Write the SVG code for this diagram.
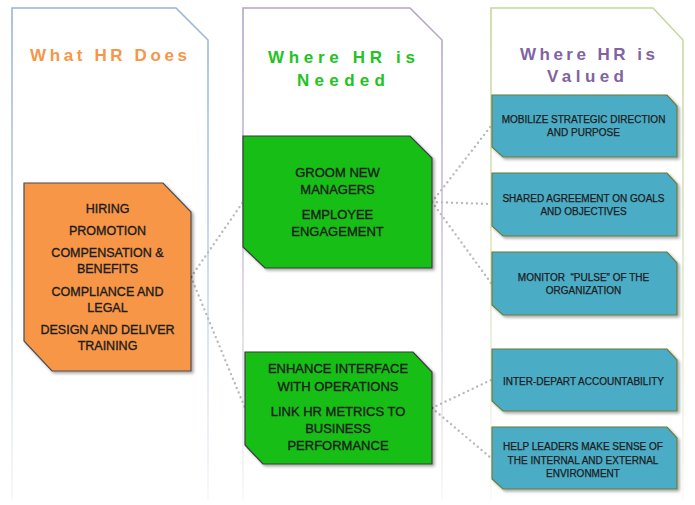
<svg xmlns="http://www.w3.org/2000/svg" width="695" height="505" viewBox="0 0 695 505">
<defs>
  <linearGradient id="g1" gradientUnits="userSpaceOnUse" x1="0" y1="0" x2="0" y2="505">
    <stop offset="0" stop-color="#95b3d7" stop-opacity="1"/>
    <stop offset="0.55" stop-color="#95b3d7" stop-opacity="0.55"/>
    <stop offset="1" stop-color="#95b3d7" stop-opacity="0.08"/>
  </linearGradient>
  <linearGradient id="g2" gradientUnits="userSpaceOnUse" x1="0" y1="0" x2="0" y2="505">
    <stop offset="0" stop-color="#b3a2c7" stop-opacity="1"/>
    <stop offset="0.55" stop-color="#b3a2c7" stop-opacity="0.55"/>
    <stop offset="1" stop-color="#b3a2c7" stop-opacity="0.08"/>
  </linearGradient>
  <linearGradient id="g3" gradientUnits="userSpaceOnUse" x1="0" y1="0" x2="0" y2="505">
    <stop offset="0" stop-color="#c3d69b" stop-opacity="1"/>
    <stop offset="0.55" stop-color="#c3d69b" stop-opacity="0.55"/>
    <stop offset="1" stop-color="#c3d69b" stop-opacity="0.08"/>
  </linearGradient>
  <filter id="sh" x="-10%" y="-10%" width="125%" height="125%">
    <feGaussianBlur in="SourceAlpha" stdDeviation="1.5"/>
    <feOffset dx="2" dy="2" result="b"/>
    <feComponentTransfer><feFuncA type="linear" slope="0.35"/></feComponentTransfer>
    <feMerge><feMergeNode/><feMergeNode in="SourceGraphic"/></feMerge>
  </filter>
</defs>
<style>
  .frame { fill: none; stroke-width: 1.6; }
  .hdr { font-family: "Liberation Sans", Arial, sans-serif; font-weight: bold; font-size: 17px; }
  .box { stroke-width: 1.2; filter: url(#sh); }
  .org { fill: #f79646; stroke: #4d4d4d; }
  .grn { fill: #12be12; stroke: #3c3c3c; }
  .teal { fill: #4bacc6; stroke: #6b7d3c; }
  .t { font-family: "Liberation Sans", Arial, sans-serif; fill: #1c1c1c; stroke: #1c1c1c; stroke-width: 0.35; text-anchor: middle; white-space: pre; }
  .t1 { font-size: 12.5px; }
  .t2 { font-size: 13px; }
  .t3 { font-size: 10px; stroke-width: 0.25; }
  .con { fill: none; stroke: #b9b9b9; stroke-width: 2.4; stroke-linecap: round; stroke-dasharray: 0 5; }
  .pt { fill: #4a4a4a; }
</style>

<g id="column-does">
  <path class="frame" stroke="url(#g1)" d="M12,500 V8 H176 L208,40 V500"/>
  <text class="hdr" x="30" y="61" fill="#f79646" textLength="157" lengthAdjust="spacing">What HR Does</text>
</g>
<g id="column-needed">
  <path class="frame" stroke="url(#g2)" d="M243,500 V8 H410 L442,40 V500"/>
  <text class="hdr" x="268" y="63" fill="#22c322" textLength="147" lengthAdjust="spacing">Where HR is</text>
  <text class="hdr" x="297" y="86" fill="#22c322" textLength="88" lengthAdjust="spacing">Needed</text>
</g>
<g id="column-valued">
  <path class="frame" stroke="url(#g3)" d="M491,500 V8 H653 L683,40 V500"/>
  <text class="hdr" x="520" y="60" fill="#8064a2" textLength="135" lengthAdjust="spacing">Where HR is</text>
  <text class="hdr" x="547" y="82" fill="#8064a2" textLength="77" lengthAdjust="spacing">Valued</text>
</g>

<g id="connectors">
  <path class="con" d="M191,277 L243,202"/>
  <path class="con" d="M191,277 L245,408"/>
  <path class="con" d="M432,202 L491,126"/>
  <path class="con" d="M432,202 L491,204"/>
  <path class="con" d="M432,202 L491,283"/>
  <path class="con" d="M432,408 L491,380"/>
  <path class="con" d="M432,408 L491,458"/>
  <circle class="pt" cx="191" cy="277" r="1.3"/>
  <circle class="pt" cx="431" cy="202" r="1.3"/>
  <circle class="pt" cx="432" cy="408" r="1.3"/>
</g>

<g id="node-does">
  <path class="box org" d="M24,183 H163 L191,212 V371 H52 L24,341 Z"/>
  <text class="t t1" x="107.5" y="213">HIRING</text>
  <text class="t t1" x="107.5" y="235">PROMOTION</text>
  <text class="t t1" x="107.5" y="257">COMPENSATION &amp;</text>
  <text class="t t1" x="107.5" y="273">BENEFITS</text>
  <text class="t t1" x="107.5" y="296">COMPLIANCE AND</text>
  <text class="t t1" x="107.5" y="312">LEGAL</text>
  <text class="t t1" x="107.5" y="334">DESIGN AND DELIVER</text>
  <text class="t t1" x="107.5" y="350">TRAINING</text>
</g>

<g id="node-needed-1">
  <path class="box grn" d="M243,136 H410 L432,158 V268 H265 L243,247 Z"/>
  <text class="t t2" x="337.5" y="177">GROOM NEW</text>
  <text class="t t2" x="337.5" y="194">MANAGERS</text>
  <text class="t t2" x="337.5" y="219">EMPLOYEE</text>
  <text class="t t2" x="337.5" y="236">ENGAGEMENT</text>
</g>

<g id="node-needed-2">
  <path class="box grn" d="M245,352 H413 L432,372 V464 H263 L245,445 Z"/>
  <text class="t t2" x="338" y="373">ENHANCE INTERFACE</text>
  <text class="t t2" x="338" y="391">WITH OPERATIONS</text>
  <text class="t t2" x="338" y="416">LINK HR METRICS TO</text>
  <text class="t t2" x="338" y="433">BUSINESS</text>
  <text class="t t2" x="338" y="450">PERFORMANCE</text>
</g>

<g id="node-valued-1">
  <path class="box teal" d="M492,95 H667 L677,106 V157 H503 L492,147 Z"/>
  <text class="t t3" x="583.5" y="123">MOBILIZE STRATEGIC DIRECTION</text>
  <text class="t t3" x="583.5" y="136">AND PURPOSE</text>
</g>
<g id="node-valued-2">
  <path class="box teal" d="M492,173 H667 L677,184 V236 H503 L492,226 Z"/>
  <text class="t t3" x="583.5" y="201.5">SHARED AGREEMENT ON GOALS</text>
  <text class="t t3" x="583.5" y="214.5">AND OBJECTIVES</text>
</g>
<g id="node-valued-3">
  <path class="box teal" d="M492,252 H667 L677,263 V315 H503 L492,305 Z"/>
  <text class="t t3" x="583.5" y="280.5">MONITOR  “PULSE” OF THE</text>
  <text class="t t3" x="583.5" y="293.5">ORGANIZATION</text>
</g>
<g id="node-valued-4">
  <path class="box teal" d="M492,349 H667 L677,360 V411 H503 L492,401 Z"/>
  <text class="t t3" x="583.5" y="385">INTER-DEPART ACCOUNTABILITY</text>
</g>
<g id="node-valued-5">
  <path class="box teal" d="M492,427 H667 L677,438 V489 H503 L492,479 Z"/>
  <text class="t t3" x="583" y="450">HELP LEADERS MAKE SENSE OF</text>
  <text class="t t3" x="583" y="463.5">THE INTERNAL AND EXTERNAL</text>
  <text class="t t3" x="583" y="477">ENVIRONMENT</text>
</g>
</svg>
